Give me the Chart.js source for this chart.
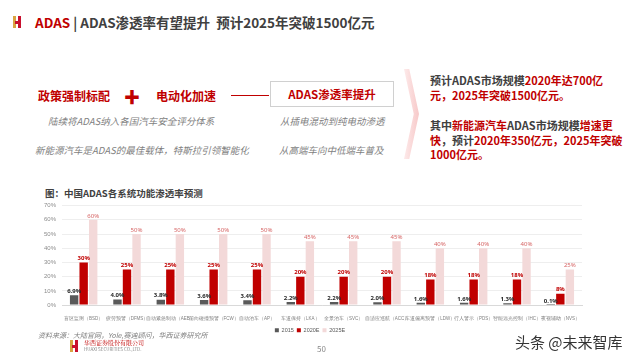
<!DOCTYPE html>
<html>
<head>
<meta charset="utf-8">
<script src="https://cdn.jsdelivr.net/npm/chart.js@4"></script>
<style>
  body { margin: 0; width: 640px; height: 360px; background: #fff; position: relative; overflow: hidden;
         font-family: "Noto Sans CJK SC", "Noto Sans", sans-serif; color: #404040; }
  .abs { position: absolute; white-space: nowrap; }
  .red { color: #C00000; }
  .logo { position: absolute; width: 9px; height: 12px; }
  .logo i { position: absolute; top: 0; bottom: 0; width: 3px; background: #C8102E; }
  .it { font-style: italic; color: #7f7f7f; font-size: 9.5px; line-height: 12px; }
  .chev { position: absolute; left: 404px; top: 69px; width: 15px; height: 90px;
          background: linear-gradient(90deg, #fdeaea, #f7c9c9);
          clip-path: polygon(0 0, 35% 0, 100% 50%, 35% 100%, 0 100%, 65% 50%); }
  #wrap { position: absolute; left: 38px; top: 196px; width: 562px; height: 137px; }
</style>
</head>
<body>
  <div class="logo" style="left:13px;top:16px"><i style="left:0;background:#d9a441"></i><i style="left:5px"></i><i style="left:2px;top:5px;bottom:4px;width:4px"></i></div>
  <div class="abs" style="left:35px;top:12px;font-size:13.5px;font-weight:bold"><span class="red">ADAS</span> | ADAS渗透率有望提升&nbsp;&nbsp;预计2025年突破1500亿元</div>

  <div class="abs red" style="left:38px;top:87px;font-size:12px;font-weight:bold">政策强制标配</div>
  <div class="abs red" style="left:124px;top:84px;font-size:16px;font-weight:bold">✚</div>
  <div class="abs red" style="left:156px;top:87px;font-size:12px;font-weight:bold">电动化加速</div>
  <div class="abs" style="left:231px;top:95px;width:38px;height:1px;background:#C00000"></div>
  <div class="abs red" style="left:270px;top:81px;width:122px;height:24px;border:1px solid #d0d0d0;font-size:11.5px;font-weight:bold;text-align:center;line-height:24px">ADAS渗透率提升</div>
  <div class="abs it" style="left:48px;top:115px">陆续将ADAS纳入各国汽车安全评分体系</div>
  <div class="abs it" style="left:35px;top:144px">新能源汽车是ADAS的最佳载体，特斯拉引领智能化</div>
  <div class="abs it" style="left:280px;top:115px">从插电混动到纯电动渗透</div>
  <div class="abs it" style="left:279px;top:144px">从高端车向中低端车普及</div>
  <div class="chev"></div>
  <div class="abs" style="left:430px;top:73px;font-size:11px;line-height:14.5px;font-weight:bold;color:#404040">
    预计ADAS市场规模<span class="red">2020年达700亿<br>元，2025年突破1500亿元。</span><br>
    <div style="height:16px"></div>
    其中<span class="red">新能源汽车</span>ADAS市场规模<span class="red">增速更</span><br><span class="red">快</span>，预计<span class="red">2020年350亿元，2025年突破<br>1000亿元。</span>
  </div>

  <div class="abs" style="left:45px;top:186px;font-size:9.5px;font-weight:bold;color:#404040">图：中国ADAS各系统功能渗透率预测</div>
  <div id="wrap"><canvas id="c"></canvas></div>

  <div class="abs" style="left:38px;top:330px;font-size:7px;font-style:italic;color:#7f7f7f">资料来源：大陆官网，Yole,赛迪顾问，华西证券研究所</div>
  <div class="logo" style="left:70px;top:340px"><i style="left:0;background:#d9a441"></i><i style="left:5px"></i><i style="left:2px;top:5px;bottom:4px;width:4px"></i></div>
  <div class="abs" style="left:84px;top:338px;font-size:6px;color:#C00000;font-family:'Noto Serif CJK SC','Noto Sans CJK SC',serif">华西证券股份有限公司</div>
  <div class="abs" style="left:84px;top:346px;font-size:4.5px;color:#888">HUAXI SECURITIES CO.,LTD.</div>
  <div class="abs" style="left:317px;top:343px;font-size:8px;color:#888">50</div>
  <div class="abs" style="left:515px;top:331px;font-size:15px;color:#333">头条 @未来智库</div>

<script>
const categories = ['盲区监测（BSD）', '疲劳预警（DFMS）', '自动紧急制动（AEB）', '前向碰撞预警（FCW）',
  '自动泊车（AP）', '车道保持（LKA）', '全景泊车（SVC）', '自适应巡航（ACC）',
  '车道偏离预警（LDW）', '行人警示（PDS）', '智能远光控制（IHC）', '夜视辅助（NVS）'];
const years = ['2015', '2020E', '2025E'];
const rate2015 = [6.9, 4.0, 3.8, 3.6, 3.4, 2.2, 2.2, 2.0, 1.6, 1.6, 1.3, 0.1];
const rate2020 = [30, 25, 25, 25, 25, 20, 20, 20, 18, 18, 18, 8];
const rate2025 = [60, 50, 50, 50, 50, 45, 45, 45, 40, 40, 40, 25];
const yTicks = [0, 10, 20, 30, 40, 50, 60, 70];

const barColors = ['#595959', '#C00000', '#F3D9D9'];
const labelColors = ['#262626', '#C00000', '#D66565'];

const valueLabels = {
  id: 'valueLabels',
  beforeInit(chart) {
    // tighten the legend block so it sits right under the tick labels
    const fit = chart.legend.fit;
    chart.legend.fit = function () { fit.call(this); this.height -= 10; };
  },
  afterDatasetsDraw(chart) {
    const ctx = chart.ctx;
    ctx.save();
    ctx.textAlign = 'center';
    ctx.textBaseline = 'bottom';
    chart.data.datasets.forEach((ds, i) => {
      const meta = chart.getDatasetMeta(i);
      ctx.fillStyle = labelColors[i];
      ctx.font = (i === 2 ? '' : 'bold ') + '6px "Noto Sans", sans-serif';
      meta.data.forEach((bar, j) => {
        const v = ds.data[j];
        const txt = (i === 0 ? v.toFixed(1) : v) + '%';
        ctx.fillText(txt, bar.x, bar.y - 1);
      });
    });
    ctx.restore();
  }
};

new Chart(document.getElementById('c'), {
  type: 'bar',
  data: {
    labels: categories,
    datasets: [rate2015, rate2020, rate2025].map((d, i) => ({
      label: years[i],
      data: d,
      backgroundColor: barColors[i],
      barPercentage: 0.88,
      categoryPercentage: 0.66
    }))
  },
  options: {
    responsive: true,
    maintainAspectRatio: false,
    animation: false,
    layout: { padding: { top: 6, right: 18, left: 0, bottom: 0 } },
    plugins: {
      tooltip: { enabled: false },
      legend: {
        position: 'bottom',
        labels: { boxWidth: 4, boxHeight: 4, padding: 3, color: '#595959',
                  font: { size: 5.5 } }
      }
    },
    scales: {
      x: {
        grid: { display: false },
        border: { color: '#d9d9d9' },
        ticks: { color: '#7f7f7f', font: { size: 4.5 }, maxRotation: 0, autoSkip: false, padding: 3 }
      },
      y: {
        min: 0, max: 70,
        afterFit: s => { s.width = 24; },
        afterBuildTicks: s => { s.ticks = yTicks.map(v => ({ value: v })); },
        grid: { color: '#eeeeee', drawTicks: false },
        border: { display: false },
        ticks: { color: '#8c8c8c', font: { size: 6 }, padding: 6, callback: v => v + '%' }
      }
    }
  },
  plugins: [valueLabels]
});
</script>
</body>
</html>
